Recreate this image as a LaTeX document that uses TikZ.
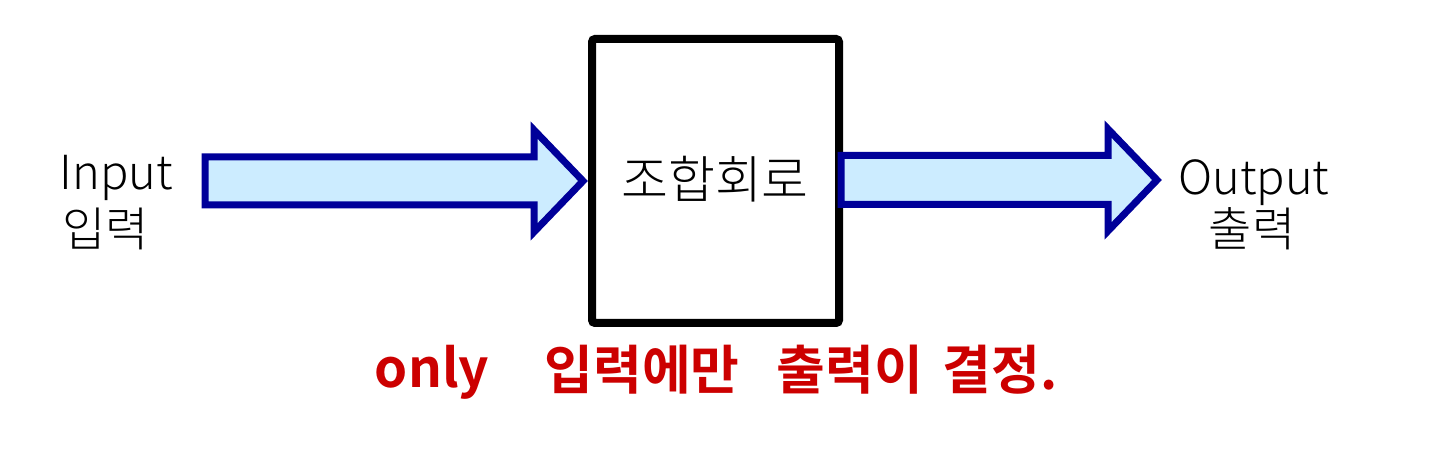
\documentclass[tikz,border=0pt]{standalone}
\usepackage{fontspec}
\setmainfont{Noto Sans CJK KR Light}
\newfontfamily\krb{Noto Sans CJK KR Bold}
\definecolor{arrowblue}{HTML}{000099}
\definecolor{arrowfill}{HTML}{CCECFF}
\definecolor{notered}{HTML}{CC0000}
\begin{document}
\begin{tikzpicture}[x=0.5pt,y=-0.5pt,
  blockarrow/.style={draw=arrowblue, fill=arrowfill, line width=3.5pt, line join=miter},
  blackbox/.style={draw=black, line width=4pt, rounded corners=1.5pt, minimum width=123.5pt, minimum height=142pt, inner sep=0pt},
  lbl/.style={inner sep=0pt, font=\fontsize{23.5}{28}\selectfont},
  note/.style={inner sep=0pt, text=notered, font=\krb\fontsize{26.5}{30}\selectfont}]
\useasboundingbox (0,0) rectangle (1440,464);
% left arrow
\draw[blockarrow] (205,157) -- (534,157) -- (534,130) -- (583,181) -- (534,232) -- (534,205) -- (205,205) -- cycle;
% box
\node[blackbox] (box) at (715.5,181) {};
\node[inner sep=0pt, font=\fontsize{25.5}{30}\selectfont] (title) at (715,179) {조합회로};
% right arrow
\draw[blockarrow] (841,155.5) -- (1108,155.5) -- (1108,129) -- (1157,180) -- (1108,231) -- (1108,204.5) -- (841,204.5) -- cycle;
% labels
\node[lbl, anchor=base west] (in) at (59,190) {Input};
\node[lbl, anchor=base west] (inkr) at (62,247) {입력};
\node[lbl, anchor=base] (out) at (1254,195) {Output};
\node[lbl, anchor=base] (outkr) at (1252,247) {출력};
% note
\node[note] (n1) at (432,372) {only};
\node[note] (n2) at (642,370) {입력에만};
\node[note] (n3) at (850,370) {출력이};
\node[note] (n4) at (1000,370) {결정.};
\end{tikzpicture}
\end{document}
